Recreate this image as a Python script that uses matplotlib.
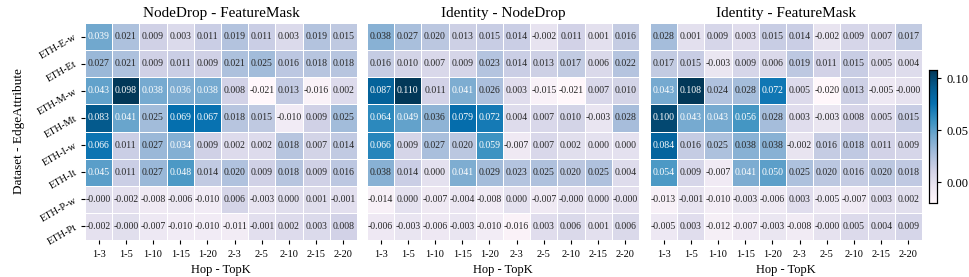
import numpy as np
import matplotlib
matplotlib.use("Agg")
import matplotlib.pyplot as plt
import seaborn as sns

plt.rcParams['font.family'] = ['Liberation Serif', 'DejaVu Serif']
plt.rcParams['mathtext.fontset'] = 'stix'

row_labels = ["ETH-E-w", "ETH-Et", "ETH-M-w", "ETH-Mt", "ETH-I-w", "ETH-It", "ETH-P-w", "ETH-Pt"]
col_labels = ["1-3", "1-5", "1-10", "1-15", "1-20", "2-3", "2-5", "2-10", "2-15", "2-20"]
titles = ["NodeDrop - FeatureMask", "Identity - NodeDrop", "Identity - FeatureMask"]

nodedrop_featuremask = [
    [0.039, 0.021, 0.009, 0.003, 0.011, 0.019, 0.011, 0.003, 0.019, 0.015],
    [0.027, 0.021, 0.009, 0.011, 0.009, 0.021, 0.025, 0.016, 0.018, 0.018],
    [0.043, 0.098, 0.038, 0.036, 0.038, 0.008, -0.021, 0.013, -0.016, 0.002],
    [0.083, 0.041, 0.025, 0.069, 0.067, 0.018, 0.015, -0.010, 0.009, 0.025],
    [0.066, 0.011, 0.027, 0.034, 0.009, 0.002, 0.002, 0.018, 0.007, 0.014],
    [0.045, 0.011, 0.027, 0.048, 0.014, 0.020, 0.009, 0.018, 0.009, 0.016],
    [-0.0004, -0.002, -0.008, -0.006, -0.010, 0.006, -0.003, 0.000, 0.001, -0.001],
    [-0.002, -0.0004, -0.007, -0.010, -0.010, -0.011, -0.001, 0.002, 0.003, 0.008],
]

identity_nodedrop = [
    [0.038, 0.027, 0.020, 0.013, 0.015, 0.014, -0.002, 0.011, 0.001, 0.016],
    [0.016, 0.010, 0.007, 0.009, 0.023, 0.014, 0.013, 0.017, 0.006, 0.022],
    [0.087, 0.110, 0.011, 0.041, 0.026, 0.003, -0.015, -0.021, 0.007, 0.010],
    [0.064, 0.049, 0.036, 0.079, 0.072, 0.004, 0.007, 0.010, -0.003, 0.028],
    [0.066, 0.009, 0.027, 0.020, 0.059, -0.007, 0.007, 0.002, 0.000, 0.000],
    [0.038, 0.014, 0.000, 0.041, 0.029, 0.023, 0.025, 0.020, 0.025, 0.004],
    [-0.014, 0.000, -0.007, -0.004, -0.008, 0.000, -0.007, -0.0004, 0.000, -0.0004],
    [-0.006, -0.003, -0.006, -0.003, -0.010, -0.016, 0.003, 0.006, 0.001, 0.006],
]

identity_featuremask = [
    [0.028, 0.001, 0.009, 0.003, 0.015, 0.014, -0.002, 0.009, 0.007, 0.017],
    [0.017, 0.015, -0.003, 0.009, 0.006, 0.019, 0.011, 0.015, 0.005, 0.004],
    [0.043, 0.108, 0.024, 0.028, 0.072, 0.005, -0.020, 0.013, -0.005, -0.0004],
    [0.100, 0.043, 0.043, 0.056, 0.028, 0.003, -0.003, 0.008, 0.005, 0.015],
    [0.084, 0.016, 0.025, 0.038, 0.038, -0.002, 0.016, 0.018, 0.011, 0.009],
    [0.054, 0.009, -0.007, 0.041, 0.050, 0.025, 0.020, 0.016, 0.020, 0.018],
    [-0.013, -0.001, -0.010, -0.003, -0.006, 0.003, -0.005, -0.007, 0.003, 0.002],
    [-0.005, 0.003, -0.012, -0.007, -0.003, -0.008, -0.0004, 0.005, 0.004, 0.009],
]

panels = [nodedrop_featuremask, identity_nodedrop, identity_featuremask]

fig = plt.figure(figsize=(9.69, 2.77), dpi=100)
lefts = [85 / 969, 367 / 969, 650 / 969]
W = 272 / 969
B = 1 - 240 / 277
H = 217 / 277
cax = fig.add_axes([929 / 969, 1 - 203 / 277, 8 / 969, 133 / 277])

for i, (data, title) in enumerate(zip(panels, titles)):
    ax = fig.add_axes([lefts[i], B, W, H])
    arr = np.array(data)
    sns.heatmap(arr, ax=ax, cmap="PuBu", annot=True, fmt=".3f",
                annot_kws={"fontsize": 7}, linewidths=0.6, linecolor="white",
                cbar=(i == 2), cbar_ax=cax if i == 2 else None,
                xticklabels=col_labels, yticklabels=row_labels if i == 0 else False)
    ax.set_title(title, fontsize=11, pad=4)
    ax.set_xlabel("Hop - TopK", fontsize=9, labelpad=4)
    ax.tick_params(axis='x', labelsize=7.5, rotation=0, length=3, width=0.8, pad=4)
    if i == 0:
        ax.set_ylabel("Dataset - EdgeAttribute", fontsize=9.5, labelpad=8)
        ax.tick_params(axis='y', labelsize=7.5, length=3, width=0.8)
        for lab in ax.get_yticklabels():
            lab.set_rotation(30)
            lab.set_ha('right')
            lab.set_va('center')
            lab.set_rotation_mode('anchor')
    else:
        ax.tick_params(axis='y', left=False)

cax.tick_params(labelsize=9, length=3)
cax.set_yticks([0.0, 0.05, 0.10])
cax.set_yticklabels(["0.00", "0.05", "0.10"])
for s in cax.spines.values():
    s.set_visible(True)
    s.set_linewidth(0.8)

fig.savefig("out.png", dpi=100)
